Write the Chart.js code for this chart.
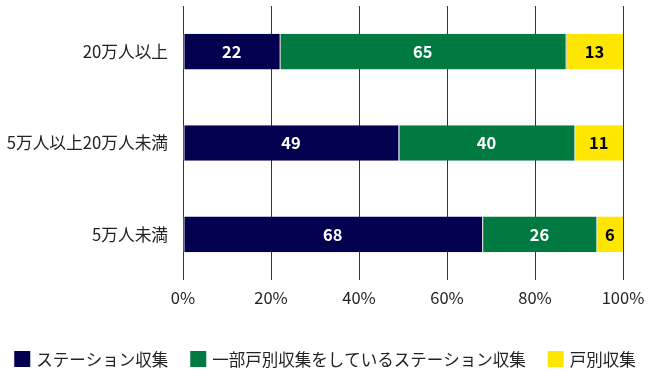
<!DOCTYPE html>
<html><head><meta charset="utf-8">
<script src="https://cdn.jsdelivr.net/npm/chart.js@4/dist/chart.umd.min.js"></script>
<style>html,body{margin:0;padding:0;background:#fff}#wrap{width:650px;height:376px}</style>
</head><body><div id="wrap"><canvas id="c" width="650" height="376"></canvas></div>
<script>
const categories = ['20万人以上', '5万人以上20万人未満', '5万人未満'];
const stationValues = [22, 49, 68];
const partialValues = [65, 40, 26];
const doorValues = [13, 11, 6];
const seriesNames = ['ステーション収集', '一部戸別収集をしているステーション収集', '戸別収集'];
const xTicks = [0, 20, 40, 60, 80, 100];

const FONT = '"Noto Sans CJK JP", "Noto Sans", sans-serif';

const labelPlugin = {
  id: 'barLabels',
  afterDatasetsDraw(chart) {
    const ctx = chart.ctx;
    chart.data.datasets.forEach((ds, di) => {
      const meta = chart.getDatasetMeta(di);
      meta.data.forEach((bar, i) => {
        const v = ds.data[i];
        const cx = (bar.x + bar.base) / 2;
        ctx.save();
        ctx.font = 'bold 16.5px ' + FONT;
        ctx.fillStyle = ds.labelColor;
        ctx.textAlign = 'center';
        ctx.textBaseline = 'middle';
        ctx.fillText(String(v), cx, bar.y);
        ctx.restore();
      });
    });
  }
};

// Single-row legend centered at the bottom of the canvas
const legendPlugin = {
  id: 'rowLegend',
  afterDraw(chart) {
    const ctx = chart.ctx;
    const box = 16, gapText = 6, gapItem = 22;
    ctx.save();
    ctx.font = '16.5px ' + FONT;
    const items = chart.data.datasets.map(ds => ({
      text: ds.label, color: ds.backgroundColor,
      w: box + gapText + ctx.measureText(ds.label).width
    }));
    const total = items.reduce((a, it) => a + it.w, 0) + gapItem * (items.length - 1);
    let x = (chart.width - total) / 2;
    const cy = chart.height - 17;
    items.forEach(it => {
      ctx.fillStyle = it.color;
      ctx.fillRect(x, cy - box / 2, box, box);
      ctx.fillStyle = '#222';
      ctx.textAlign = 'left';
      ctx.textBaseline = 'middle';
      ctx.fillText(it.text, x + box + gapText, cy + 1);
      x += it.w + gapItem;
    });
    ctx.restore();
  }
};

new Chart(document.getElementById('c'), {
  type: 'bar',
  data: {
    labels: categories,
    datasets: [
      {label: seriesNames[0], data: stationValues, backgroundColor: '#03004F', labelColor: '#ffffff'},
      {label: seriesNames[1], data: partialValues, backgroundColor: '#007A40', labelColor: '#ffffff'},
      {label: seriesNames[2], data: doorValues, backgroundColor: '#FFE600', labelColor: '#000000'}
    ].map(d => Object.assign(d, {
      borderColor: '#c8c8c8',
      borderWidth: {left: 1, right: 0, top: 0, bottom: 0},
      borderSkipped: false,
      barPercentage: 0.39,
      categoryPercentage: 1
    }))
  },
  options: {
    indexAxis: 'y',
    responsive: false,
    animation: false,
    layout: {padding: {top: 6, right: 27, left: 0, bottom: 48}},
    scales: {
      x: {
        stacked: true, min: 0, max: 100,
        afterBuildTicks(s) { s.ticks = xTicks.map(v => ({value: v})); },
        grid: {color: '#333333', lineWidth: 1, drawTicks: false},
        border: {display: false},
        ticks: {callback: v => v + '%', font: {family: FONT, size: 16.5}, color: '#222', padding: 8},
        afterFit(s) { s.height = 48; s.paddingLeft = 0; s.paddingRight = 0; }
      },
      y: {
        stacked: true,
        grid: {display: false, drawTicks: false},
        border: {display: false},
        ticks: {font: {family: FONT, size: 16.7}, color: '#222', padding: 15},
        afterFit(s) { s.width = 183; s.paddingTop = 0; s.paddingBottom = 0; }
      }
    },
    plugins: {
      legend: {display: false},
      tooltip: {enabled: false}
    }
  },
  plugins: [labelPlugin, legendPlugin]
});
</script></body></html>
